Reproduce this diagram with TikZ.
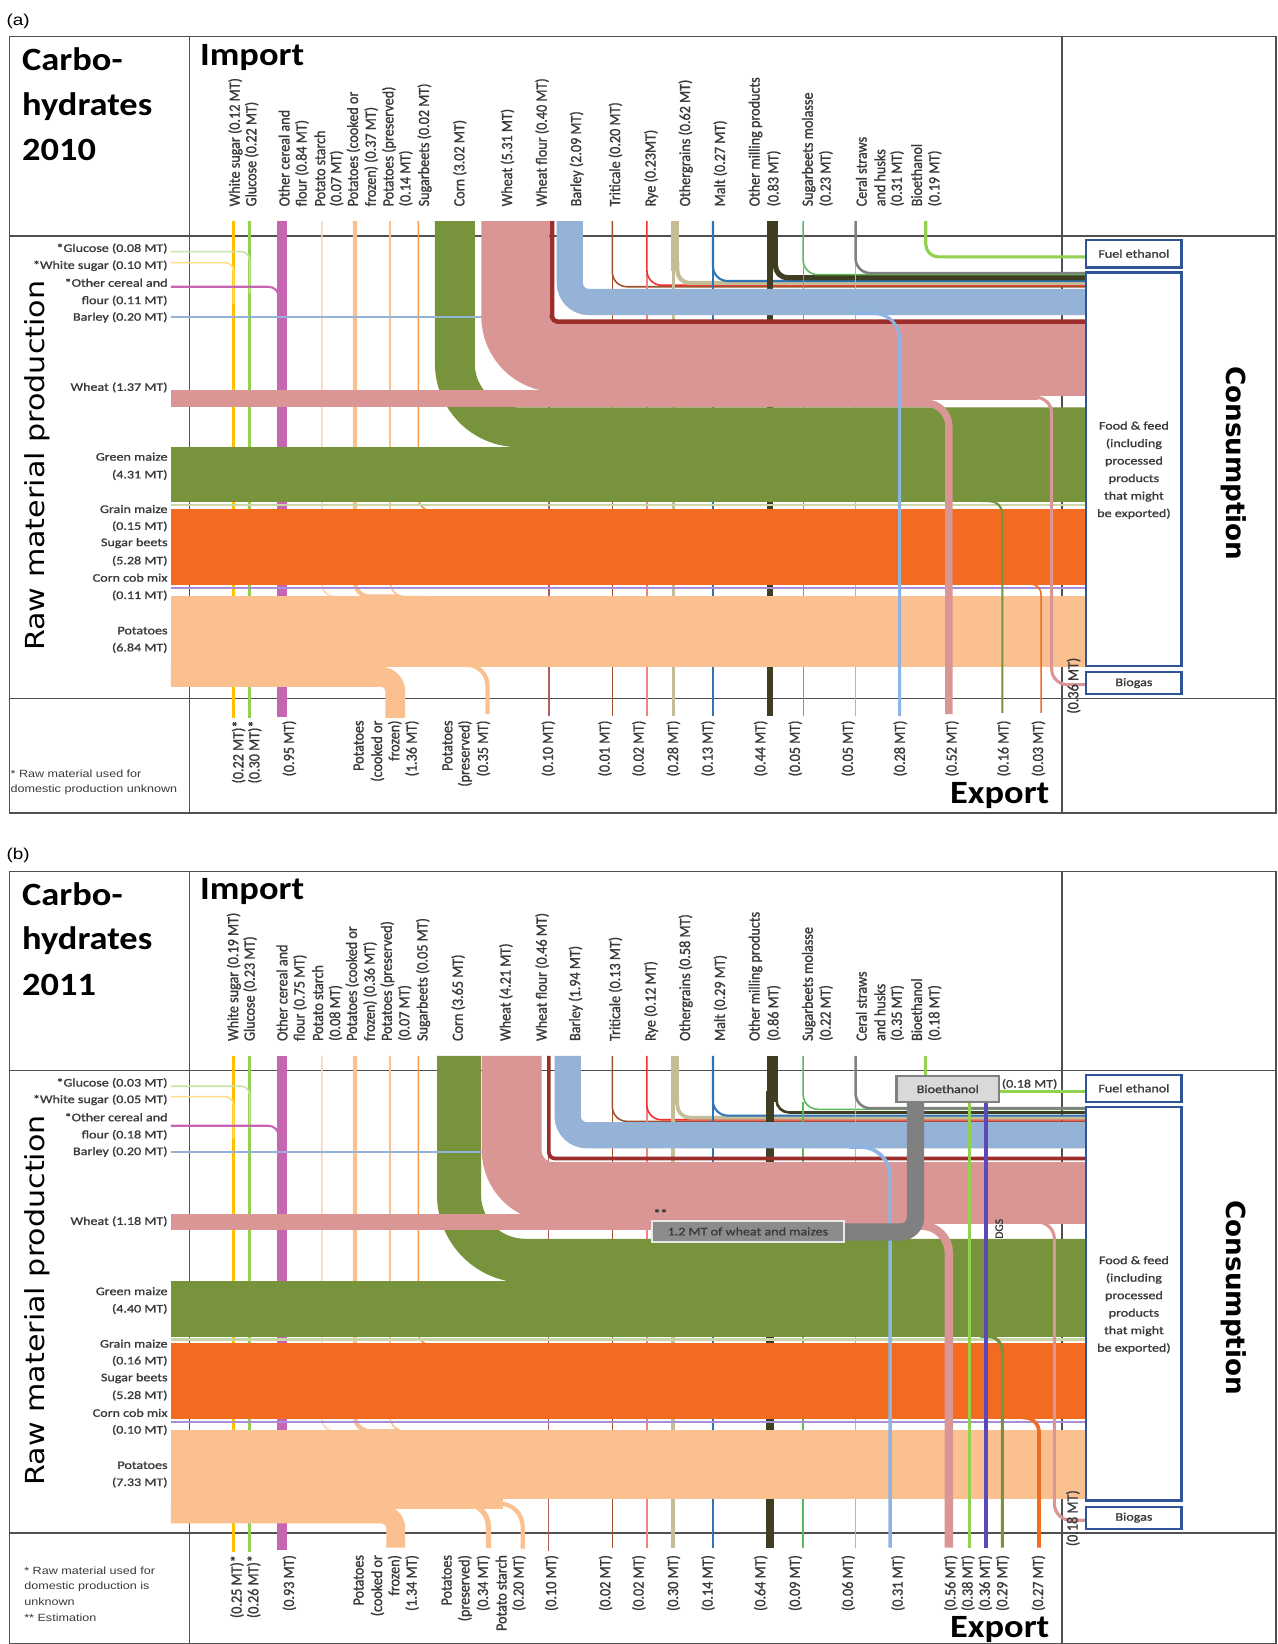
\documentclass[tikz,border=0pt]{standalone}
\usepackage{fontspec}
\usepackage{graphicx}
\setmainfont{Carlito}
\newfontfamily\lab{Carlito}[FakeStretch=1.22,FakeBold=1.2]
\newfontfamily\labr{Carlito}[FakeBold=1.2]
\newfontfamily\ttlf{Carlito}[FakeStretch=1.12]
\newfontfamily\dejav{DejaVu Sans}
\newfontfamily\dejavs{DejaVu Sans}[FakeStretch=1.15]
\newfontfamily\arl{Liberation Sans}[FakeStretch=1.2]

\definecolor{gridc}{HTML}{505050}
\definecolor{labc}{HTML}{3A3A3A}
\definecolor{cgreen}{HTML}{77933C}
\definecolor{corange}{HTML}{F26B21}
\definecolor{cpeach}{HTML}{FAC090}
\definecolor{cpeachl}{HTML}{FCD5B4}
\definecolor{cpink}{HTML}{D99694}
\definecolor{cblue}{HTML}{95B3D7}
\definecolor{cblue2}{HTML}{8DB4E2}
\definecolor{cdred}{HTML}{9B2D2A}
\definecolor{cmag}{HTML}{C666B3}
\definecolor{cyel}{HTML}{FFC000}
\definecolor{cyell}{HTML}{FFDF80}
\definecolor{clgreen}{HTML}{92D050}
\definecolor{clgreenl}{HTML}{C9E3A8}
\definecolor{csugimp}{HTML}{F79646}
\definecolor{ctrit}{HTML}{A0522D}
\definecolor{crye}{HTML}{F03030}
\definecolor{cryel}{HTML}{F58080}
\definecolor{cgrain}{HTML}{C4BD97}
\definecolor{cmalt}{HTML}{2E75B6}
\definecolor{cmill}{HTML}{403E22}
\definecolor{cmol}{HTML}{5BB85B}
\definecolor{cstraw}{HTML}{808080}
\definecolor{cstrawl}{HTML}{B5B5B5}
\definecolor{cgrainm}{HTML}{C9D6A8}
\definecolor{ccob}{HTML}{A88FD8}
\definecolor{cbox}{HTML}{2F5597}
\definecolor{cdgs}{HTML}{5B4AB5}
\definecolor{cgray}{HTML}{808080}
\definecolor{cbioe}{HTML}{D9D9D9}
\definecolor{cwfl}{HTML}{B0605C}
\definecolor{cmt}{HTML}{8C8C8C}
\definecolor{cmtb}{HTML}{E8E8E8}

\newcounter{nn}
\newcommand\mkN[3]{\stepcounter{nn}\node[#1] (n\arabic{nn}) at (#2) {#3};}
\newcommand\vtx[1]{\scalebox{1}[1.1]{\labr\fontsize{13.5}{14}\selectfont\color{labc}#1}}
\newcommand\TopL[2]{\mkN{toplab}{#1,197}{\vtx{#2}}}
\newcommand\BotL[2]{\mkN{botlab}{#1,687}{\vtx{#2}}}
\newcommand\LeftL[2]{\mkN{leftlab}{160,#1}{#2}}

\tikzset{
 toplab/.style={rotate=90, anchor=west, inner sep=0pt},
 botlab/.style={rotate=90, anchor=east, inner sep=0pt},
 leftlab/.style={anchor=east, inner sep=0pt, text=labc, font=\lab\fontsize{11}{13}\selectfont},
 hlab/.style={inner sep=0pt, text=labc, font=\lab\fontsize{11}{13}\selectfont},
 ttl/.style={anchor=base west, inner sep=0pt, font=\ttlf\bfseries\fontsize{31}{33}\selectfont},
 boxst/.style={draw=cbox, line width=2.2pt, fill=white, inner sep=0pt, text=labc, font=\lab\fontsize{11}{13}\selectfont},
 gridl/.style={draw=gridc, line width=1.3pt},
 footl/.style={anchor=west, inner sep=0pt, text=labc, font=\arl\fontsize{10}{12}\selectfont},
}

\newcommand\panelgrid[1]{%
 \draw[gridl] (9,35) rectangle (1217,#1);
 \draw[gridl] (181,35) -- (181,#1);
 \draw[gridl] (1013,35) -- (1013,#1);
 \draw[gridl] (9,225) -- (1217,225);
 \draw[gridl] (9,666) -- (1217,666);
}

\newcommand\paneltext[2]{%
 \mkN{anchor=west, inner sep=0pt, font=\arl\fontsize{15}{17}\selectfont}{6,20}{(#1)}
 \mkN{ttl}{21,67.5}{Carbo-}
 \mkN{ttl}{21,110}{hydrates}
 \mkN{ttl}{21,153.5}{#2}
 \mkN{ttl}{190.7,62}{Import}
 \mkN{ttl, anchor=base east}{1001,766}{Export}
 \mkN{rotate=90, anchor=west, inner sep=0pt, font=\dejavs\fontsize{25}{27}\selectfont}{36,621}{Raw material production}
 \mkN{rotate=-90, anchor=west, inner sep=0pt, font=\dejav\bfseries\fontsize{25}{27}\selectfont}{1177,349}{Consumption}
 \mkN{boxst, minimum width=91pt, minimum height=26pt}{1081.5,242}{Fuel ethanol}
 \mkN{boxst, minimum width=91pt, minimum height=375pt}{1081.5,447.5}{}
 \mkN{hlab, align=center, font=\lab\fontsize{11}{16.7}\selectfont}{1081.5,448.5}{Food \& feed\\(including\\processed\\products\\that might\\be exported)}
 \mkN{boxst, minimum width=91pt, minimum height=21pt}{1081.5,651.5}{Biogas}
}

\begin{document}
\begin{tikzpicture}[x=1pt, y=-1pt]
\fill[white] (0,0) rectangle (1218,1568);
\useasboundingbox (0,0) rectangle (1218,1568);

%%%%%%%%%%%%%%%% PANEL (a)
\begin{scope}
\panelgrid{775.5}
% import streams and small inputs (behind bands)
\draw[cyel, line width=2pt] (222.7,211) -- (222.7,685);
\draw[cyell, line width=1.5pt, rounded corners=8pt] (163,250.5) -- (222.7,250.5) -- (222.7,290);
\draw[clgreen, line width=2pt] (238,211) -- (238,685);
\draw[clgreenl, line width=1.5pt, rounded corners=8pt] (163,240) -- (238,240) -- (238,280);
\draw[cmag, line width=9.5pt] (269.2,211) -- (269.2,684);
\draw[cmag, line width=2pt, rounded corners=10pt] (163,273.5) -- (266,273.5) -- (266,320);
\draw[cpeachl, line width=1.5pt, rounded corners=12pt] (307,211) -- (307,569) -- (340,569);
\draw[cpeach, line width=4pt, rounded corners=14pt] (338.6,211) -- (338.6,569) -- (380,569);
\draw[cpeach, line width=1.5pt, rounded corners=14pt] (372,211) -- (372,569) -- (410,569);
\draw[csugimp, line width=1.5pt, rounded corners=12pt] (399,211) -- (399,487) -- (430,487);
\draw[cwfl, line width=1.5pt] (523.5,300) -- (523.5,683);
\draw[ctrit, line width=1.5pt] (584,260) -- (584,683);
\draw[ctrit, line width=1.5pt, rounded corners=14pt] (584,211) -- (584,273.5) -- (1036,273.5);
\draw[cryel, line width=1.3pt] (617,260) -- (617,683);
\draw[crye, line width=1.5pt, rounded corners=14pt] (617,211) -- (617,272) -- (1036,272);
\draw[cgrain, line width=3pt] (642,250) -- (642,683);
\draw[cgrain, line width=8pt] (644,211) -- (644,258);
\draw[cgrain, line width=4pt, rounded corners=12pt] (646,250) -- (646,270) -- (1036,270);
\draw[cmalt, line width=1.5pt] (680,255) -- (680,683);
\draw[cmalt, line width=2pt, rounded corners=14pt] (680,211) -- (680,268) -- (1036,268);
\draw[cmill, line width=5pt] (734.5,245) -- (734.5,683);
\draw[cmill, line width=10pt] (737,211) -- (737,255);
\draw[cmill, line width=5pt, rounded corners=12pt] (739.5,245) -- (739.5,265) -- (1036,265);
\draw[cmol, line width=1.2pt] (766,255) -- (766,683);
\draw[cmol, line width=1.5pt, rounded corners=14pt] (766,211) -- (766,262) -- (1036,262);
\draw[cstrawl, line width=1.2pt] (816,250) -- (816,683);
\draw[cstraw, line width=2.5pt, rounded corners=14pt] (816,211) -- (816,260.5) -- (1036,260.5);
\draw[clgreen, line width=3pt, rounded corners=12pt] (883,211) -- (883,245) -- (1036,245);
% big bands
\draw[cgreen, line width=38pt, rounded corners=61pt] (433.8,211) -- (433.8,407.5) -- (1036,407.5);
\draw[cblue, line width=2pt] (163,302.7) -- (480,302.7);
\draw[cpink, line width=65pt, rounded corners=40pt] (491.5,211) -- (491.5,341.5) -- (1036,341.5);
\fill[cpink] (163,372) rectangle (885,388);
\fill[cpink] (520,370) rectangle (1036,377.5);
\fill[cpink] (880,376) rectangle (990,381.5);
\draw[cdred, line width=4.4pt, rounded corners=5.5pt] (526.5,211) -- (526.5,306.8) -- (1036,306.8);
\draw[cblue, line width=25pt, rounded corners=18pt] (543.5,211) -- (543.5,288) -- (1036,288);
\fill[cgreen] (163,426) rectangle (1036,479);
\draw[cgrainm, line width=2.5pt] (163,481.5) -- (1036,481.5);
\fill[corange] (163,485.5) rectangle (1036,558);
\draw[ccob, line width=1.8pt] (163,560.5) -- (1036,560.5);
\fill[cpeach] (163,568) rectangle (1036,636);
\draw[cpeach, line width=19pt, rounded corners=14pt] (163,645.5) -- (377,645.5) -- (377,685);
\draw[cpeach, line width=4pt, rounded corners=20pt] (430,634) -- (465,634) -- (465,681);
% exports on top
\draw[cblue2, line width=3pt, rounded corners=24pt] (815,299) -- (858,299) -- (858,683);
\draw[cpink, line width=7pt, rounded corners=22pt] (870,384.5) -- (905,384.5) -- (905,681);
\draw[cpink, line width=3pt, rounded corners=15pt] (970,379) -- (1003,379) -- (1003,653) -- (1036,653);
\draw[cgreen, line width=2pt, rounded corners=12pt] (935,478) -- (956,478) -- (956,680);
\draw[corange, line width=1.5pt, rounded corners=10pt] (980,557) -- (993,557) -- (993,680);
% texts
\paneltext{a}{2010}
\mkN{rotate=90, inner sep=0pt}{1024,654}{\vtx{(0.36 MT)}}
\LeftL{237}{*Glucose (0.08 MT)}
\LeftL{253.4}{*White sugar (0.10 MT)}
\LeftL{269.6}{*Other cereal and}
\LeftL{286.8}{flour (0.11 MT)}
\LeftL{302.7}{Barley (0.20 MT)}
\LeftL{369.5}{Wheat (1.37 MT)}
\LeftL{435.6}{Green maize}
\LeftL{453}{(4.31 MT)}
\LeftL{485.5}{Grain maize}
\LeftL{502}{(0.15 MT)}
\LeftL{518}{Sugar beets}
\LeftL{535}{(5.28 MT)}
\LeftL{551}{Corn cob mix}
\LeftL{568}{(0.11 MT)}
\LeftL{601.5}{Potatoes}
\LeftL{618}{(6.84 MT)}
\TopL{224.5}{White sugar (0.12 MT)}
\TopL{240}{Glucose (0.22 MT)}
\TopL{271}{Other cereal and}
\TopL{288}{flour (0.84 MT)}
\TopL{305}{Potato starch}
\TopL{321}{(0.07 MT)}
\TopL{337}{Potatoes (cooked or}
\TopL{354}{frozen) (0.37 MT)}
\TopL{371}{Potatoes (preserved)}
\TopL{387}{(0.14 MT)}
\TopL{405}{Sugarbeets (0.02 MT)}
\TopL{438.5}{Corn (3.02 MT)}
\TopL{484}{Wheat (5.31 MT)}
\TopL{517}{Wheat flour (0.40 MT)}
\TopL{550}{Barley (2.09 MT)}
\TopL{587}{Triticale (0.20 MT)}
\TopL{621}{Rye (0.23MT)}
\TopL{654}{Othergrains (0.62 MT)}
\TopL{687}{Malt (0.27 MT)}
\TopL{720.6}{Other milling products}
\TopL{738}{(0.83 MT)}
\TopL{771.3}{Sugarbeets molasse}
\TopL{787.8}{(0.23 MT)}
\TopL{821.5}{Ceral straws}
\TopL{839.2}{and husks}
\TopL{855.7}{(0.31 MT)}
\TopL{874.2}{Bioethanol}
\TopL{891.5}{(0.19 MT)}
\BotL{227.6}{(0.22 MT)*}
\BotL{243}{(0.30 MT)*}
\BotL{276}{(0.95 MT)}
\BotL{342}{Potatoes}
\BotL{360}{(cooked or}
\BotL{376.5}{frozen)}
\BotL{393}{(1.36 MT)}
\BotL{426.7}{Potatoes}
\BotL{443.5}{(preserved)}
\BotL{461}{(0.35 MT)}
\BotL{523}{(0.10 MT)}
\BotL{577}{(0.01 MT)}
\BotL{609.4}{(0.02 MT)}
\BotL{642.3}{(0.28 MT)}
\BotL{675.3}{(0.13 MT)}
\BotL{725.5}{(0.44 MT)}
\BotL{758.5}{(0.05 MT)}
\BotL{809}{(0.05 MT)}
\BotL{858.6}{(0.28 MT)}
\BotL{908}{(0.52 MT)}
\BotL{957.4}{(0.16 MT)}
\BotL{990.4}{(0.03 MT)}
\mkN{footl}{10,737.6}{* Raw material used for}
\mkN{footl}{10,753.5}{domestic production unknown}
\end{scope}

%%%%%%%%%%%%%%%% PANEL (b)
\begin{scope}[shift={(0,796)}]
\panelgrid{771.5}
\draw[cyel, line width=2pt] (222.7,211) -- (222.7,684);
\draw[cyell, line width=1.5pt, rounded corners=8pt] (163,250) -- (222.7,250) -- (222.7,290);
\draw[clgreen, line width=2pt] (238,211) -- (238,684);
\draw[clgreenl, line width=1.5pt, rounded corners=8pt] (163,240) -- (238,240) -- (238,280);
\draw[cmag, line width=9.5pt] (269.2,211) -- (269.2,682.5);
\draw[cmag, line width=2pt, rounded corners=10pt] (163,277.7) -- (266,277.7) -- (266,320);
\draw[cpeachl, line width=1.5pt, rounded corners=12pt] (307,211) -- (307,569) -- (340,569);
\draw[cpeach, line width=4pt, rounded corners=14pt] (338.6,211) -- (338.6,569) -- (380,569);
\draw[cpeach, line width=1.5pt, rounded corners=14pt] (372,211) -- (372,569) -- (410,569);
\draw[csugimp, line width=1.5pt, rounded corners=12pt] (399,211) -- (399,487) -- (430,487);
\draw[cwfl, line width=1.5pt] (523,300) -- (523,683);
\draw[ctrit, line width=1.5pt] (584,260) -- (584,680);
\draw[ctrit, line width=1.5pt, rounded corners=14pt] (584,211) -- (584,273.5) -- (1036,273.5);
\draw[cryel, line width=1.3pt] (617,260) -- (617,680);
\draw[crye, line width=1.5pt, rounded corners=14pt] (617,211) -- (617,272) -- (1036,272);
\draw[cgrain, line width=3.5pt] (642,250) -- (642,680);
\draw[cgrain, line width=8pt] (644,211) -- (644,258);
\draw[cgrain, line width=3.5pt, rounded corners=12pt] (646,250) -- (646,270) -- (1036,270);
\draw[cmalt, line width=1.5pt] (680,255) -- (680,680);
\draw[cmalt, line width=2pt, rounded corners=14pt] (680,211) -- (680,268) -- (1036,268);
\draw[cmill, line width=7.5pt] (734,245) -- (734,680);
\draw[cmill, line width=10pt] (737,211) -- (737,255);
\draw[cmill, line width=2.5pt, rounded corners=12pt] (740.5,245) -- (740.5,265) -- (1036,265);
\draw[cmol, line width=1.5pt] (766,255) -- (766,680);
\draw[cmol, line width=1.5pt, rounded corners=14pt] (766,211) -- (766,262) -- (1036,262);
\draw[cstrawl, line width=1.2pt] (816,250) -- (816,680);
\draw[cstraw, line width=2.5pt, rounded corners=14pt] (816,211) -- (816,261) -- (1036,261);
\draw[clgreen, line width=3pt] (883,211) -- (883,232);
% bands
\draw[cgreen, line width=42pt, rounded corners=63pt] (437.8,211) -- (437.8,406.5) -- (1036,406.5);
\draw[cblue, line width=2pt] (163,302.5) -- (480,302.5);
\draw[cpink, line width=57pt, rounded corners=40pt] (488,211) -- (488,341) -- (1036,341);
\fill[cpink] (163,362) rectangle (640,377);
\fill[cpink] (520,366) rectangle (1036,371);
\draw[cdred, line width=3.5pt, rounded corners=6pt] (523.5,211) -- (523.5,309) -- (1036,309);
\draw[cblue, line width=25pt, rounded corners=18pt] (541.5,211) -- (541.5,286.7) -- (1036,286.7);
\fill[cgreen] (163,426) rectangle (1036,479.5);
\draw[cgrainm, line width=2.5pt] (163,481.8) -- (1036,481.8);
\fill[corange] (163,485) rectangle (1036,557);
\draw[ccob, line width=1.8pt] (163,560) -- (1036,560);
\fill[cpeach] (163,568) rectangle (1036,633.5);
\fill[cpeach] (163,633) rectangle (480,643);
\draw[cpeach, line width=18pt, rounded corners=14pt] (163,648) -- (377.5,648) -- (377.5,680);
\draw[cpeach, line width=5pt, rounded corners=22pt] (430,638) -- (465.8,638) -- (465.8,680.5);
\draw[cpeach, line width=4pt, rounded corners=22pt] (460,638) -- (498.5,638) -- (498.5,681);
% exports on top
\draw[cblue2, line width=3.5pt, rounded corners=28pt] (810,298) -- (849,298) -- (849,680);
\draw[cpink, line width=8pt, rounded corners=26pt] (868,373) -- (905,373) -- (905,680);
\draw[cpink, line width=3pt, rounded corners=16pt] (975,369.5) -- (1005.6,369.5) -- (1005.6,654) -- (1036,654);
\draw[cgreen, line width=3pt, rounded corners=14pt] (935,478.5) -- (956,478.5) -- (956,680);
\draw[corange, line width=3.5pt, rounded corners=14pt] (975,556) -- (991,556) -- (991,680);
\draw[cgray, line width=16.5pt, rounded corners=14pt] (800,379) -- (873.2,379) -- (873.2,250);
\draw[clgreen, line width=3pt] (924.6,255) -- (924.6,680);
\draw[cdgs, line width=4pt] (940.2,255) -- (940.2,680);
\draw[clgreen, line width=3pt] (953,245.3) -- (1036,245.3);
\mkN{draw=cgray, fill=cbioe, line width=2pt, minimum width=98pt, minimum height=25.4pt, inner sep=0pt, text=labc, font=\lab\fontsize{11}{13}\selectfont}{904,242.7}{Bioethanol}
\mkN{hlab}{982,238}{(0.18 MT)}
\mkN{fill=cmt, draw=cmtb, line width=1.5pt, minimum width=183.4pt, minimum height=19.8pt, inner sep=0pt, text=labc, font=\lab\fontsize{11}{13}\selectfont}{713.3,378.5}{1.2 MT of wheat and maizes}
\mkN{hlab}{630,361}{**}
\mkN{rotate=90, inner sep=0pt, text=labc, font=\labr\fontsize{11}{12}\selectfont}{953,376}{DGS}
% texts
\paneltext{b}{2011}
\mkN{rotate=90, inner sep=0pt}{1023.3,652}{\vtx{(0.18 MT)}}
\LeftL{237}{*Glucose (0.03 MT)}
\LeftL{253}{*White sugar (0.05 MT)}
\LeftL{269.5}{*Other cereal and}
\LeftL{286.5}{flour (0.18 MT)}
\LeftL{302.5}{Barley (0.20 MT)}
\LeftL{369}{Wheat (1.18 MT)}
\LeftL{435.5}{Green maize}
\LeftL{452.5}{(4.40 MT)}
\LeftL{485.5}{Grain maize}
\LeftL{502}{(0.16 MT)}
\LeftL{518.5}{Sugar beets}
\LeftL{535}{(5.28 MT)}
\LeftL{551.5}{Corn cob mix}
\LeftL{568}{(0.10 MT)}
\LeftL{601.5}{Potatoes}
\LeftL{618}{(7.33 MT)}
\TopL{223}{White sugar (0.19 MT)}
\TopL{238.5}{Glucose (0.23 MT)}
\TopL{269}{Other cereal and}
\TopL{286}{flour (0.75 MT)}
\TopL{303}{Potato starch}
\TopL{320}{(0.08 MT)}
\TopL{336}{Potatoes (cooked or}
\TopL{353}{frozen) (0.36 MT)}
\TopL{369.5}{Potatoes (preserved)}
\TopL{386}{(0.07 MT)}
\TopL{403.5}{Sugarbeets (0.05 MT)}
\TopL{437}{Corn (3.65 MT)}
\TopL{482.5}{Wheat (4.21 MT)}
\TopL{517}{Wheat flour (0.46 MT)}
\TopL{549}{Barley (1.94 MT)}
\TopL{587}{Triticale (0.13 MT)}
\TopL{621}{Rye (0.12 MT)}
\TopL{654}{Othergrains (0.58 MT)}
\TopL{687}{Malt (0.29 MT)}
\TopL{720.6}{Other milling products}
\TopL{738}{(0.86 MT)}
\TopL{771.3}{Sugarbeets molasse}
\TopL{787.8}{(0.22 MT)}
\TopL{821.5}{Ceral straws}
\TopL{839.2}{and husks}
\TopL{855.7}{(0.35 MT)}
\TopL{874.2}{Bioethanol}
\TopL{891.5}{(0.18 MT)}
\BotL{226}{(0.25 MT)*}
\BotL{242}{(0.26 MT)*}
\BotL{276}{(0.93 MT)}
\BotL{342}{Potatoes}
\BotL{360}{(cooked or}
\BotL{376.5}{frozen)}
\BotL{393}{(1.34 MT)}
\BotL{426}{Potatoes}
\BotL{443.5}{(preserved)}
\BotL{461}{(0.34 MT)}
\BotL{478}{Potato starch}
\BotL{495}{(0.20 MT)}
\BotL{526}{(0.10 MT)}
\BotL{577.6}{(0.02 MT)}
\BotL{609.4}{(0.02 MT)}
\BotL{642.3}{(0.30 MT)}
\BotL{675.3}{(0.14 MT)}
\BotL{725.5}{(0.64 MT)}
\BotL{758.5}{(0.09 MT)}
\BotL{809}{(0.06 MT)}
\BotL{856.5}{(0.31 MT)}
\BotL{906.8}{(0.56 MT)}
\BotL{923.2}{(0.38 MT)}
\BotL{939.7}{(0.36 MT)}
\BotL{956.2}{(0.29 MT)}
\BotL{990.4}{(0.27 MT)}
\mkN{footl}{23,702}{* Raw material used for}
\mkN{footl}{23,717.4}{domestic production is}
\mkN{footl}{23,731.7}{unknown}
\mkN{footl}{23,746.6}{** Estimation}
\end{scope}
\end{tikzpicture}
\end{document}
